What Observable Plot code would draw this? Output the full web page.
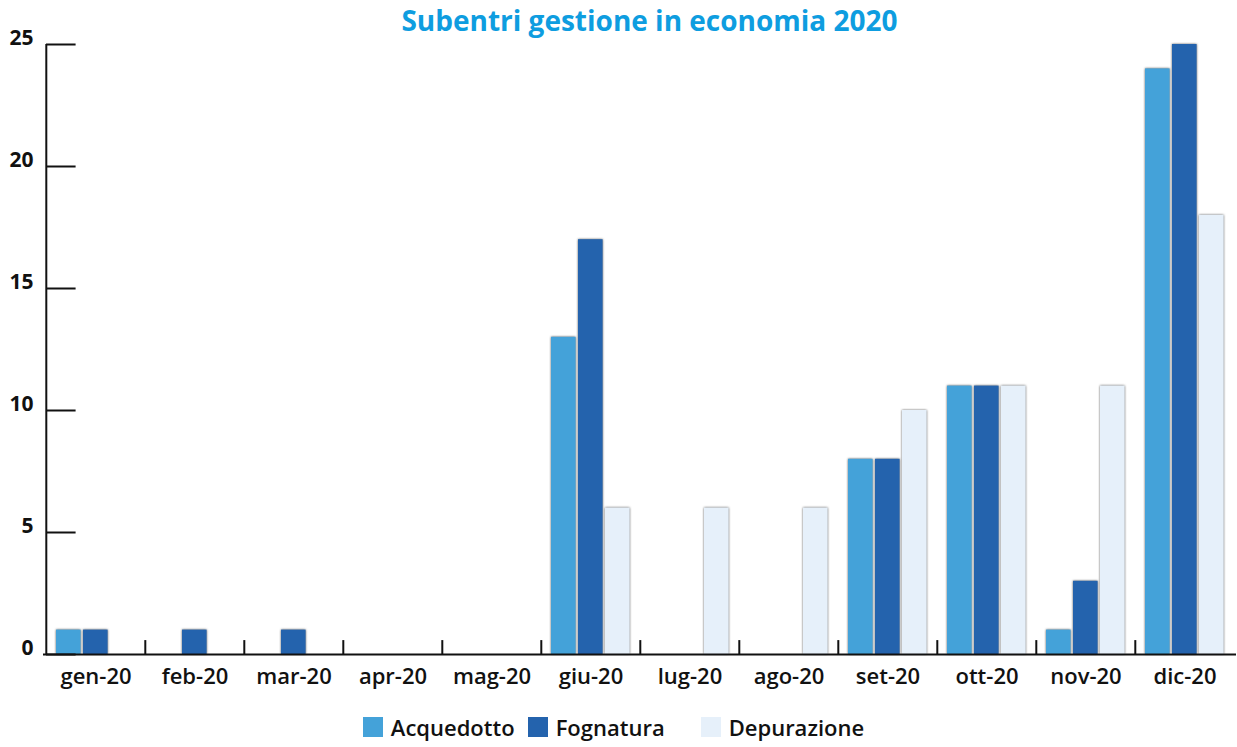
<!DOCTYPE html>
<html>
<head>
<meta charset="utf-8">
<script src="https://cdn.jsdelivr.net/npm/d3@7"></script>
<script src="https://cdn.jsdelivr.net/npm/@observablehq/plot@0.6"></script>
<style>
  body { margin: 0; background: #fff; font-family: "Open Sans", sans-serif; }
  #wrap { width: 1237px; position: relative; }
  #title { height: 30px; line-height: 40px; text-align: center; padding-left: 62px; box-sizing: border-box;
           color: #0e9de0; font-weight: 700; font-size: 28px; white-space: nowrap; }
  #chart svg { display: block; overflow: visible; }
  #chart g[aria-label="bar"] rect { filter: drop-shadow(0 0 1px rgba(50,50,50,0.8)); }
  #legend { display: flex; justify-content: center; align-items: center; height: 47px; padding-top: 6px;
            padding-right: 10px; box-sizing: border-box; font-size: 22px; font-weight: 600; color: #111; }
  .item { display: flex; align-items: center; }
  .sw { width: 20px; height: 20px; margin-right: 8px; }
</style>
</head>
<body>
<div id="wrap">
  <div id="title">Subentri gestione in economia 2020</div>
  <div id="chart"></div>
  <div id="legend"></div>
</div>
<script>
// Months shown along the bottom axis
const months = ["gen-20", "feb-20", "mar-20", "apr-20", "mag-20", "giu-20",
                "lug-20", "ago-20", "set-20", "ott-20", "nov-20", "dic-20"];

// Monthly counts per service
const acquedotto  = [1, 0, 0, 0, 0, 13, 0, 0, 8, 11, 1, 24];
const fognatura   = [1, 1, 1, 0, 0, 17, 0, 0, 8, 11, 3, 25];
const depurazione = [0, 0, 0, 0, 0, 6, 6, 6, 10, 11, 11, 18];

const seriesNames  = ["Acquedotto", "Fognatura", "Depurazione"];
const seriesColors = ["#44a2d9", "#2463ad", "#e6f0fa"];
const yTicks = [0, 5, 10, 15, 20, 25];

const series = [acquedotto, fognatura, depurazione];
// Each service takes its own slot inside a month's band
const slots = [[10, 64.4], [37, 37.4], [64, 10.4]];

const barMarks = series.map((vals, s) =>
  Plot.barY(months, {
    x: d => d,
    y: (d, i) => vals[i],
    filter: (d, i) => vals[i] > 0,
    fill: seriesColors[s],
    insetLeft: slots[s][0],
    insetRight: slots[s][1]
  })
);

const chart = Plot.plot({
  width: 1237,
  height: 670,
  marginLeft: 43,
  marginRight: 1,
  marginTop: 14,
  marginBottom: 46,
  style: { fontFamily: "Open Sans, sans-serif", color: "#111", background: "white" },
  x: { domain: months, paddingInner: 0, paddingOuter: 0, tickSize: 0, tickPadding: 14, label: null },
  y: { domain: [0, 25], ticks: yTicks, tickSize: 0, tickFormat: () => "", label: null },
  marks: [
    ...barMarks,
    Plot.ruleY([0], { stroke: "#111", strokeWidth: 2 }),
    // vertical axis line along the left edge of the first band
    Plot.ruleX([months[0]], { x: d => d, dx: -49.7, y1: 0, y2: 25, stroke: "#111", strokeWidth: 2 }),
    // short y tick marks pointing into the plot
    Plot.tickY(yTicks, { y: d => d, x: () => months[0], insetRight: 69.4, stroke: "#111", strokeWidth: 2 }),
    // y labels
    Plot.text(yTicks, { y: d => d, frameAnchor: "left", textAnchor: "end", dx: -10, dy: -6,
                        fontSize: 21, fontWeight: 700, fill: "#111" }),
    // month separators along the baseline
    Plot.ruleX(months.slice(1), { x: d => d, dx: -49.7, y1: 0, y2: 0.57, stroke: "#111", strokeWidth: 2 })
  ]
});

d3.select(chart).selectAll('g[aria-label="x-axis"] text, g[aria-label="x-axis tick label"] text')
  .style("font-size", "22px").style("font-weight", "600");
document.getElementById("chart").appendChild(chart);

const legend = d3.select("#legend");
const gaps = [13, 36, 0];
seriesNames.forEach((name, i) => {
  const it = legend.append("div").attr("class", "item").style("margin-right", gaps[i] + "px");
  it.append("div").attr("class", "sw").style("background", seriesColors[i]);
  it.append("span").text(name);
});
</script>
</body>
</html>
